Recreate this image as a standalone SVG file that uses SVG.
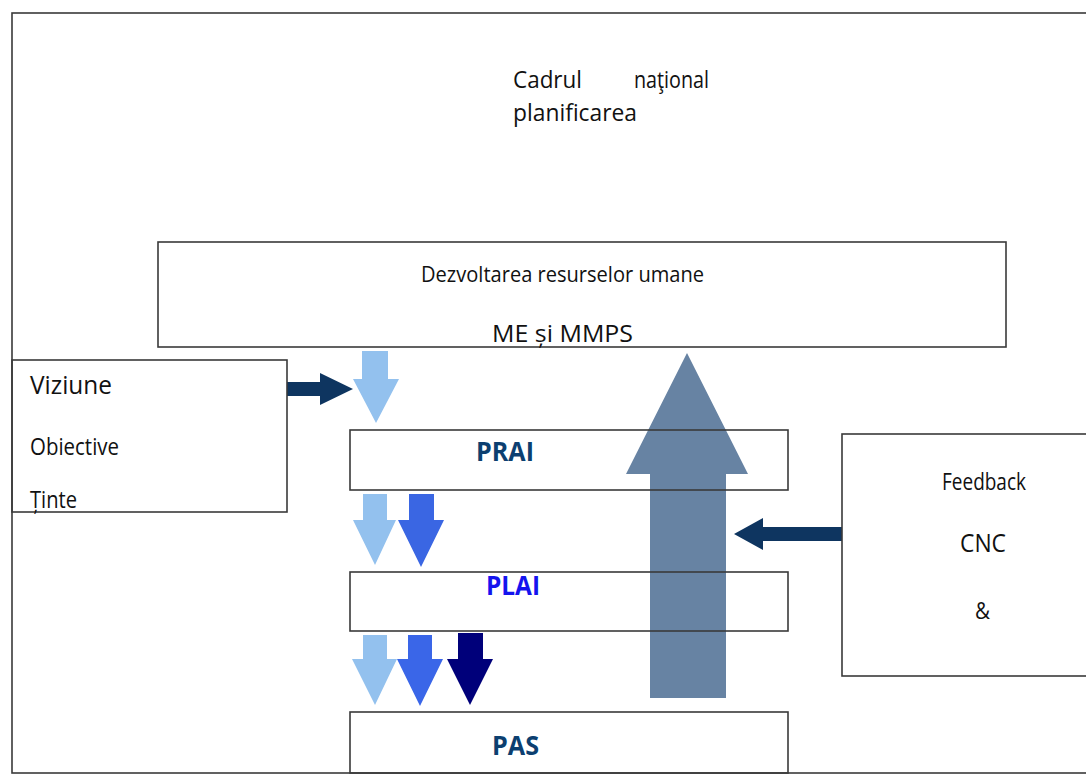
<svg xmlns="http://www.w3.org/2000/svg" width="1086" height="776" viewBox="0 0 1086 776">
<style>
.box{fill:none;stroke:#3a3a3a;stroke-width:1.6}
.t{font-family:"Open Sans","Liberation Sans",sans-serif;fill:#111111}
.b{font-family:"Open Sans","Liberation Sans",sans-serif;font-weight:bold}
</style>
<rect width="1086" height="776" fill="#ffffff"/>
<g id="connectors">
<polygon fill="#6783a3" points="650,698 650,474 626,474 687,353 748,474 726,474 726,698"/>
<polygon fill="#0e3560" points="287,382 320,382 320,373 353,389 320,405 320,396 287,396"/>
<polygon fill="#0e3560" points="842,527 763,527 763,518 734,534 763,550 763,541 842,541"/>
<polygon fill="#93c1ee" points="362,351 388,351 388,379 399,379 376,423 353,379 362,379"/>
<polygon fill="#93c1ee" points="363,494 387,494 387,520 396,520 375,565 353,520 363,520"/>
<polygon fill="#3a66e3" points="409,494 434,494 434,520 444,520 421,567 398,520 409,520"/>
<polygon fill="#93c1ee" points="363,635 387,635 387,659 397,659 375,705 352,659 363,659"/>
<polygon fill="#3a66e8" points="408,635 432,635 432,659 443,659 420,706 397,659 408,659"/>
<polygon fill="#00007a" points="458,633 483,633 483,659 493,659 470,705 447,659 458,659"/>
</g>
<g id="cadru">
<rect class="box" x="12" y="13" width="1090" height="760"/>
<text class="t" x="513" y="88" font-size="24" textLength="69" lengthAdjust="spacingAndGlyphs">Cadrul</text>
<text class="t" x="634" y="88" font-size="24" textLength="75" lengthAdjust="spacingAndGlyphs">naţional</text>
<text class="t" x="513" y="121" font-size="24" textLength="124" lengthAdjust="spacingAndGlyphs">planificarea</text>
</g>
<g id="dezvoltare">
<rect class="box" x="158" y="242" width="848" height="105"/>
<text class="t" x="421" y="282" font-size="22" textLength="283" lengthAdjust="spacingAndGlyphs">Dezvoltarea resurselor umane</text>
<text class="t" x="492" y="342" font-size="24" textLength="141" lengthAdjust="spacingAndGlyphs">ME și MMPS</text>
</g>
<g id="viziune">
<rect class="box" x="12" y="360" width="275" height="152"/>
<text class="t" x="30" y="394" font-size="25" textLength="82" lengthAdjust="spacingAndGlyphs">Viziune</text>
<text class="t" x="30" y="455" font-size="23" textLength="89" lengthAdjust="spacingAndGlyphs">Obiective</text>
<text class="t" x="30" y="508" font-size="23" textLength="47" lengthAdjust="spacingAndGlyphs">Ținte</text>
</g>
<g id="prai">
<rect class="box" x="350" y="430" width="438" height="60"/>
<text class="b" x="476" y="461" font-size="27" fill="#0c3f70" textLength="58" lengthAdjust="spacingAndGlyphs">PRAI</text>
</g>
<g id="plai">
<rect class="box" x="350" y="572" width="438" height="59"/>
<text class="b" x="486" y="595" font-size="27" fill="#1414ee" textLength="54" lengthAdjust="spacingAndGlyphs">PLAI</text>
</g>
<g id="pas">
<rect class="box" x="350" y="712" width="438" height="61"/>
<text class="b" x="492" y="755" font-size="27" fill="#0c3f70" textLength="47" lengthAdjust="spacingAndGlyphs">PAS</text>
</g>
<g id="feedback">
<rect class="box" x="842" y="434" width="260" height="242"/>
<text class="t" x="942" y="490" font-size="23" textLength="84" lengthAdjust="spacingAndGlyphs">Feedback</text>
<text class="t" x="960" y="552" font-size="25" textLength="46" lengthAdjust="spacingAndGlyphs">CNC</text>
<text class="t" x="975" y="619" font-size="24" textLength="15" lengthAdjust="spacingAndGlyphs">&amp;</text>
</g>
</svg>
